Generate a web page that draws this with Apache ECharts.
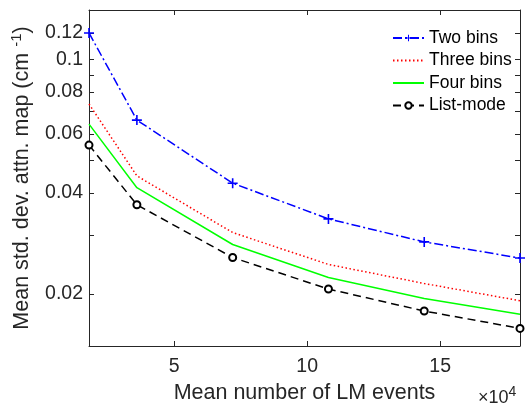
<!DOCTYPE html>
<html>
<head>
<meta charset="utf-8">
<script src="https://cdn.jsdelivr.net/npm/echarts@6/dist/echarts.min.js"></script>
<style>
  html, body { margin: 0; padding: 0; background: #fff; }
  #chart { width: 531px; height: 407px; }
</style>
</head>
<body>
<div id="chart"></div>
<script>
// number of LM events (x 10^4)
var events = [1.8, 3.6, 7.2, 10.8, 14.4, 18];

// mean std. dev. of the attenuation map, cm^-1
var twoBins = [0.120, 0.066, 0.0428, 0.0335, 0.0286, 0.0256];
var threeBins = [0.0737, 0.045, 0.0305, 0.0245, 0.0215, 0.0191];
var fourBins = [0.0642, 0.0415, 0.0281, 0.0224, 0.0194, 0.0174];
var listMode = [0.0556, 0.0369, 0.0257, 0.0207, 0.0178, 0.0158];

var xTicks = [5, 10, 15];
var yTicks = [0.02, 0.03, 0.04, 0.05, 0.06, 0.07, 0.08, 0.09, 0.1, 0.12];
var yLabels = [0.02, 0.04, 0.06, 0.08, 0.1, 0.12];

var ink = '#262626';
var font = '"Liberation Sans", Arial, Helvetica, sans-serif';

function pairs(ys) {
  return events.map(function (x, i) { return [x, ys[i]]; });
}

var plusSymbol = 'path://M4.2,0h1.6v10h-1.6zM0,4.2h10v1.6h-10z';

var chart = echarts.init(document.getElementById('chart'), null, { renderer: 'canvas' });

var axisLine = { show: true, lineStyle: { color: ink, width: 1 } };

var option = {
  animation: false,
  backgroundColor: '#fff',
  textStyle: { fontFamily: font, color: ink },
  grid: { left: 89, right: 11, top: 10, bottom: 61, outerBoundsMode: 'none', containLabel: false },
  legend: {
    orient: 'vertical',
    left: 387,
    top: 24,
    itemWidth: 31,
    itemHeight: 8,
    itemGap: 4.5,
    textStyle: { fontSize: 17.5, color: '#000', fontFamily: font, lineHeight: 18 },
    data: [
      'Two bins',
      { name: 'Three bins', itemStyle: { opacity: 0 } },
      { name: 'Four bins', itemStyle: { opacity: 0 } },
      'List-mode'
    ]
  },
  xAxis: [{
    type: 'value',
    min: 1.8,
    max: 18,
    name: 'Mean number of LM events',
    nameLocation: 'middle',
    nameGap: 35,
    nameTextStyle: { fontSize: 21.5, color: ink, fontFamily: font },
    axisLine: axisLine,
    splitLine: { show: false },
    axisTick: { inside: true, length: 5, customValues: xTicks, lineStyle: { color: ink } },
    axisLabel: { customValues: xTicks, fontSize: 19.5, color: ink, margin: 11, fontFamily: font }
  }, {
    type: 'value',
    position: 'top',
    min: 1.8,
    max: 18,
    axisLine: axisLine,
    splitLine: { show: false },
    axisTick: { inside: true, length: 5, customValues: xTicks, lineStyle: { color: ink } },
    axisLabel: { show: false }
  }],
  yAxis: [{
    type: 'log',
    logBase: 10,
    min: 0.014,
    max: 0.1405,
    name: 'Mean std. dev. attn. map (cm {sup|-1})',
    nameLocation: 'middle',
    nameGap: 53,
    nameTextStyle: {
      fontSize: 21.5, color: ink, fontFamily: font,
      rich: { sup: { fontSize: 15, color: ink, fontFamily: font, padding: [0, 0, 12, 0] } }
    },
    axisLine: axisLine,
    splitLine: { show: false },
    minorTick: { show: false },
    axisTick: { inside: true, length: 5, customValues: yTicks, lineStyle: { color: ink } },
    axisLabel: {
      customValues: yLabels, fontSize: 19.5, color: ink, margin: 6, fontFamily: font,
      formatter: function (v) { return String(+v.toFixed(2)); }
    }
  }, {
    type: 'log',
    logBase: 10,
    position: 'right',
    min: 0.014,
    max: 0.1405,
    axisLine: axisLine,
    splitLine: { show: false },
    axisTick: { inside: true, length: 5, customValues: yTicks, lineStyle: { color: ink } },
    axisLabel: { show: false }
  }],
  series: [{
    name: 'Two bins',
    type: 'line',
    data: pairs(twoBins),
    color: '#0000ff',
    symbol: plusSymbol,
    symbolSize: 10,
    itemStyle: { color: '#0000ff' },
    lineStyle: { color: '#0000ff', width: 1.5, type: [9, 3, 2, 3] }
  }, {
    name: 'Three bins',
    type: 'line',
    data: pairs(threeBins),
    color: '#ff0000',
    symbol: 'none',
    lineStyle: { color: '#ff0000', width: 1.5, type: [1.5, 2.5] }
  }, {
    name: 'Four bins',
    type: 'line',
    data: pairs(fourBins),
    color: '#00ff00',
    symbol: 'none',
    lineStyle: { color: '#00ff00', width: 1.5, type: 'solid' }
  }, {
    name: 'List-mode',
    type: 'line',
    data: pairs(listMode),
    color: '#000000',
    symbol: 'emptyCircle',
    symbolSize: 7,
    itemStyle: { color: '#000', borderColor: '#000', borderWidth: 1.5 },
    lineStyle: { color: '#000', width: 1.5, type: [8, 5] }
  }],
  graphic: [{
    type: 'text',
    left: 478,
    top: 385,
    style: {
      text: '×10{sup|4}',
      font: '18px ' + font,
      fill: ink,
      rich: { sup: { fontSize: 14, fill: ink, fontFamily: font, padding: [0, 0, 12, 0] } }
    }
  }]
};

chart.setOption(option);
</script>
</body>
</html>
